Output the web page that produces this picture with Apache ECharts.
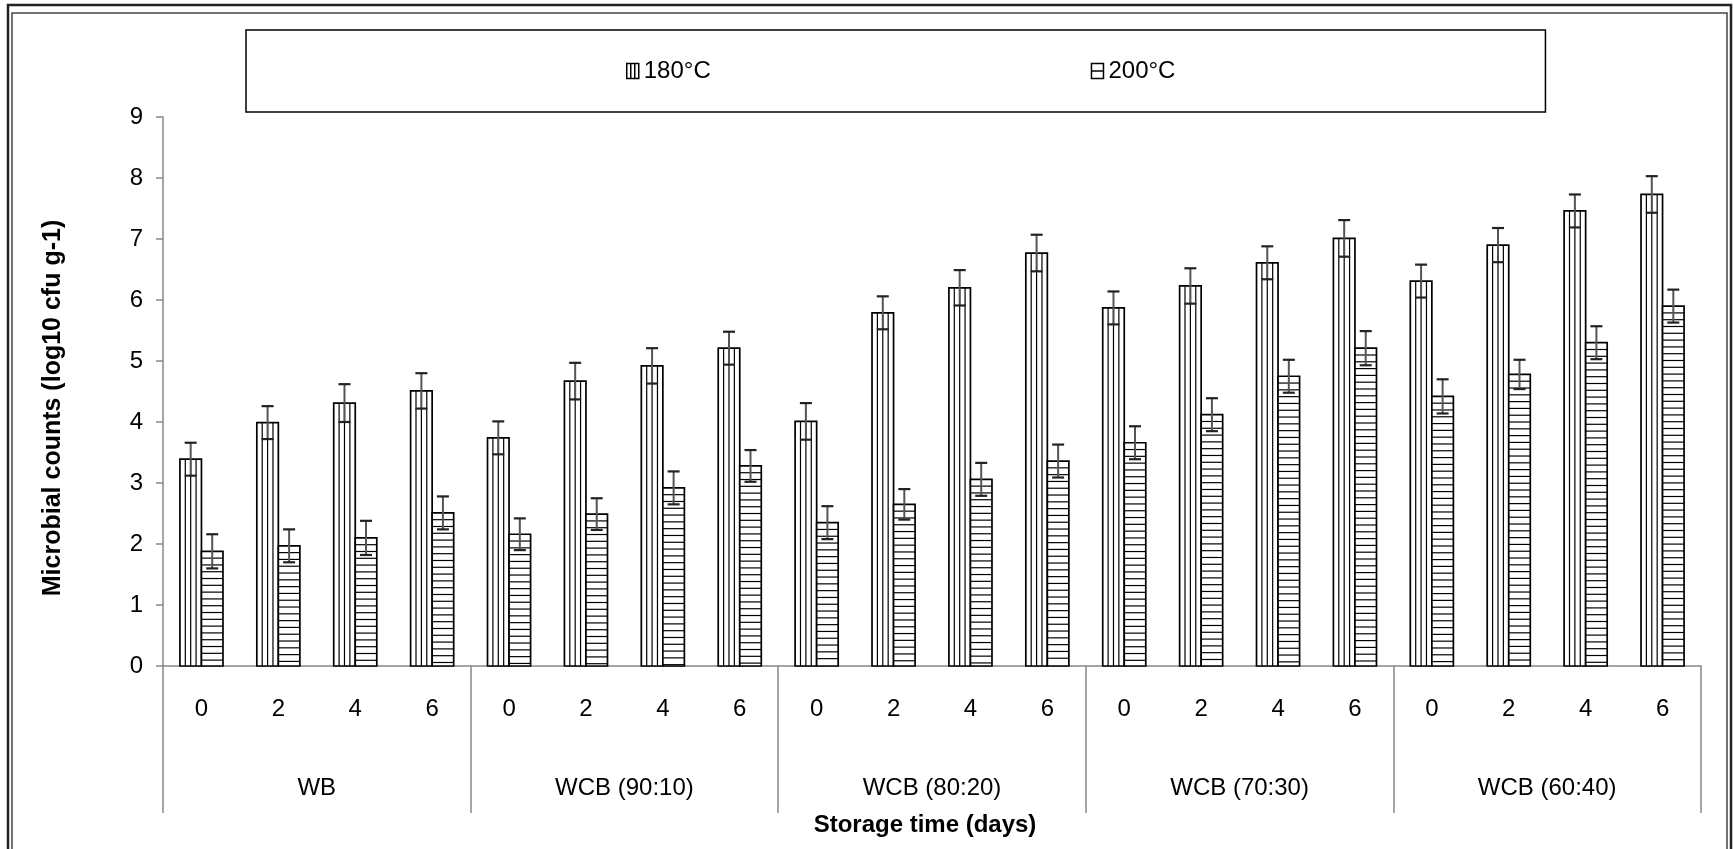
<!DOCTYPE html>
<html>
<head>
<meta charset="utf-8">
<title>Microbial counts</title>
<script src="https://cdn.jsdelivr.net/npm/echarts@6/dist/echarts.min.js"></script>
<style>
  html, body { margin: 0; padding: 0; background: #fff; }
  #main { width: 1734px; height: 849px; }
</style>
</head>
<body>
<div id="main"></div>
<script>
var dayLabels = ['0', '2', '4', '6', '0', '2', '4', '6', '0', '2', '4', '6', '0', '2', '4', '6', '0', '2', '4', '6']
var groupLabels = ['WB', 'WCB (90:10)', 'WCB (80:20)', 'WCB (70:30)', 'WCB (60:40)']
var seriesNames = ['180°C', '200°C']

var values180 = [3.39, 3.99, 4.31, 4.51, 3.74, 4.67, 4.92, 5.21, 4.01, 5.79, 6.2, 6.77, 5.87, 6.23, 6.61, 7.01, 6.31, 6.9, 7.46, 7.73]
var values200 = [1.88, 1.97, 2.1, 2.51, 2.16, 2.49, 2.92, 3.28, 2.35, 2.65, 3.06, 3.36, 3.66, 4.12, 4.75, 5.21, 4.42, 4.78, 5.3, 5.9]
var err180 = [0.27, 0.27, 0.31, 0.29, 0.27, 0.3, 0.29, 0.27, 0.3, 0.27, 0.29, 0.3, 0.27, 0.29, 0.27, 0.3, 0.27, 0.28, 0.27, 0.3]
var err200 = [0.28, 0.27, 0.28, 0.27, 0.26, 0.26, 0.27, 0.26, 0.27, 0.25, 0.27, 0.27, 0.27, 0.27, 0.27, 0.28, 0.28, 0.24, 0.27, 0.27]

var FONT = 'Liberation Sans, Arial, sans-serif'

// hatched bar + error bar, drawn from the axis coords
function renderBar(side, stripe) {
  return function (params, api) {
    var idx = api.value(0)
    var val = api.value(1)
    var err = api.value(2)
    var top = api.coord([idx, val])
    var base = api.coord([idx, 0])
    var bw = api.size([1, 0])[0] * 0.28
    var x0 = side === 'left' ? top[0] - bw : top[0]
    var h = base[1] - top[1]
    var kids = [{
      type: 'rect',
      shape: { x: x0, y: top[1], width: bw, height: h },
      style: { fill: '#fff', stroke: '#000', lineWidth: 1.7 }
    }]
    if (stripe === 'v') {
      for (var k = 1; k < 4; k++) {
        var lx = x0 + bw * k / 4
        kids.push({ type: 'line', shape: { x1: lx, y1: top[1], x2: lx, y2: base[1] }, style: { stroke: '#000', lineWidth: 1.2 } })
      }
    } else {
      for (var y = top[1] + 6.8; y < base[1] - 1; y += 6.8) {
        kids.push({ type: 'line', shape: { x1: x0, y1: y, x2: x0 + bw, y2: y }, style: { stroke: '#000', lineWidth: 1.2 } })
      }
    }
    var hi = api.coord([idx, val + err])
    var lo = api.coord([idx, val - err])
    var cx = x0 + bw / 2
    kids.push({ type: 'line', shape: { x1: cx, y1: hi[1], x2: cx, y2: lo[1] }, style: { stroke: '#555', lineWidth: 2 } })
    kids.push({ type: 'line', shape: { x1: cx - 6, y1: hi[1], x2: cx + 6, y2: hi[1] }, style: { stroke: '#222', lineWidth: 2.2 } })
    kids.push({ type: 'line', shape: { x1: cx - 6, y1: lo[1], x2: cx + 6, y2: lo[1] }, style: { stroke: '#222', lineWidth: 2.2 } })
    return { type: 'group', children: kids }
  }
}

var chart = echarts.init(document.getElementById('main'))

var option = {
  backgroundColor: '#fff',
  animation: false,
  textStyle: { fontFamily: FONT, color: '#000' },
  graphic: [
    { type: 'rect', shape: { x: 8, y: 5, width: 1723, height: 900 }, style: { fill: 'none', stroke: '#222', lineWidth: 2.5 }, silent: true },
    { type: 'rect', shape: { x: 12, y: 13, width: 1715, height: 900 }, style: { fill: 'none', stroke: '#444', lineWidth: 1.5 }, silent: true },
    {
      type: 'text', x: 53, y: 408, rotation: Math.PI / 2, silent: true,
      style: { text: 'Microbial counts (log10 cfu g-1)', font: 'bold 25px ' + FONT, fill: '#000', align: 'center', verticalAlign: 'middle' }
    },
    {
      type: 'text', x: 925, y: 825, silent: true,
      style: { text: 'Storage time (days)', font: 'bold 24px ' + FONT, fill: '#000', align: 'center', verticalAlign: 'middle' }
    }
  ],
  legend: {
    left: 246,
    top: 30,
    selectedMode: false,
    borderColor: '#000',
    borderWidth: 1.5,
    padding: [29, 370, 29, 380],
    itemGap: 380,
    itemWidth: 12,
    itemHeight: 15,
    textStyle: { fontSize: 24, color: '#000', fontFamily: FONT },
    data: [
      { name: seriesNames[0], icon: 'path://M0,0H12V15H0Z M4,0V15 M8,0V15', itemStyle: { color: '#fff', borderColor: '#000', borderWidth: 1.5 } },
      { name: seriesNames[1], icon: 'path://M0,0H12V15H0Z M0,7.5H12', itemStyle: { color: '#fff', borderColor: '#000', borderWidth: 1.5 } }
    ]
  },
  grid: { left: 163, right: 33, top: 117, bottom: 183 },
  xAxis: [
    {
      type: 'category',
      data: dayLabels,
      position: 'bottom',
      axisLine: { lineStyle: { color: '#888', width: 1.5 } },
      axisTick: { show: false },
      axisLabel: { interval: 0, fontSize: 24, color: '#000', margin: 31, fontFamily: FONT }
    },
    {
      type: 'category',
      data: groupLabels,
      position: 'bottom',
      axisLine: { show: false },
      axisTick: { show: true, length: 147, interval: 0, lineStyle: { color: '#888', width: 1.5 } },
      axisLabel: { interval: 0, fontSize: 24, color: '#000', margin: 110, fontFamily: FONT }
    }
  ],
  yAxis: {
    type: 'value',
    min: 0,
    max: 9,
    interval: 1,
    axisLine: { show: true, lineStyle: { color: '#888', width: 1.5 } },
    axisTick: { show: true, length: 7, lineStyle: { color: '#888', width: 1.5 } },
    splitLine: { show: false },
    axisLabel: { fontSize: 24, color: '#000', margin: 20, fontFamily: FONT }
  },
  series: [
    {
      name: seriesNames[0],
      type: 'custom',
      xAxisIndex: 0,
      renderItem: renderBar('left', 'v'),
      encode: { x: 0, y: 1 },
      itemStyle: { color: '#fff' },
      data: values180.map(function (v, i) { return [i, v, err180[i]] })
    },
    {
      name: seriesNames[1],
      type: 'custom',
      xAxisIndex: 0,
      renderItem: renderBar('right', 'h'),
      encode: { x: 0, y: 1 },
      itemStyle: { color: '#fff' },
      data: values200.map(function (v, i) { return [i, v, err200[i]] })
    }
  ]
}

chart.setOption(option)
</script>
</body>
</html>
